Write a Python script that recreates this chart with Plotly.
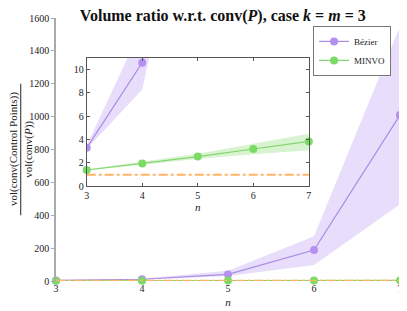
import plotly.graph_objects as go

n_vals = [3, 4, 5, 6, 7]
bezier_mean = [3.3, 10.6, 40, 188, 1010]
bezier_low = [3.2, 8.3, 30, 97, 467]
bezier_high = [3.5, 13.7, 62, 273, 1550]
minvo_mean = [1.4, 1.95, 2.55, 3.2, 3.85]
minvo_low = [1.35, 1.85, 2.35, 2.75, 3.1]
minvo_high = [1.45, 2.1, 2.8, 3.65, 4.5]
ref_val = [1, 1, 1, 1, 1]
main_yticks = [0, 200, 400, 600, 800, 1000, 1200, 1400, 1600]
inset_yticks = [0, 2, 4, 6, 8, 10]

PUR_M = "#B491F0"
PUR_L = "#A98BE6"
PUR_F = "rgba(185,150,240,0.32)"
GRN_M = "#7BDB64"
GRN_L = "#7FD56C"
GRN_F = "rgba(125,215,100,0.30)"
ORG = "#FFB364"
FONT = "Liberation Serif"

fig = go.Figure()

def add_set(xa, ya, show):
    fig.add_trace(go.Scatter(x=n_vals, y=bezier_low, mode="lines", line=dict(width=0),
                             showlegend=False, hoverinfo="skip", xaxis=xa, yaxis=ya))
    fig.add_trace(go.Scatter(x=n_vals, y=bezier_high, mode="lines", line=dict(width=0),
                             fill="tonexty", fillcolor=PUR_F, showlegend=False,
                             hoverinfo="skip", xaxis=xa, yaxis=ya))
    fig.add_trace(go.Scatter(x=n_vals, y=minvo_low, mode="lines", line=dict(width=0),
                             showlegend=False, hoverinfo="skip", xaxis=xa, yaxis=ya))
    fig.add_trace(go.Scatter(x=n_vals, y=minvo_high, mode="lines", line=dict(width=0),
                             fill="tonexty", fillcolor=GRN_F, showlegend=False,
                             hoverinfo="skip", xaxis=xa, yaxis=ya))
    fig.add_trace(go.Scatter(x=n_vals, y=bezier_mean, mode="lines+markers", name="Bézier",
                             line=dict(color=PUR_L, width=1.2),
                             marker=dict(color=PUR_M, size=8), showlegend=show,
                             cliponaxis=(xa != "x"), xaxis=xa, yaxis=ya))
    fig.add_trace(go.Scatter(x=n_vals, y=minvo_mean, mode="lines+markers", name="MINVO",
                             line=dict(color=GRN_L, width=1.2),
                             marker=dict(color=GRN_M, size=8), showlegend=show,
                             cliponaxis=False, xaxis=xa, yaxis=ya))
    fig.add_trace(go.Scatter(x=n_vals, y=ref_val, mode="lines",
                             line=dict(color=ORG, width=2, dash="dashdot"),
                             showlegend=False, hoverinfo="skip", xaxis=xa, yaxis=ya))

add_set("x", "y", True)
add_set("x2", "y2", False)

# The page body has an 8px margin, so the figure is 8px smaller on each axis.
fig.update_layout(
    width=399, height=303,
    margin=dict(l=48, r=4, t=10, b=29),
    paper_bgcolor="white", plot_bgcolor="white",
    font=dict(family=FONT, size=10, color="#222"),
    title=dict(text="<b>Volume ratio w.r.t. conv(<i>P</i>), case <i>k</i> = <i>m</i> = 3</b>",
               xref="paper", x=0.485, xanchor="center",
               yref="container", y=0.995, yanchor="top", pad=dict(t=0, b=0),
               font=dict(family=FONT, size=16, color="#111")),
    showlegend=True,
    legend=dict(x=0.974, xanchor="right", y=0.97, yanchor="top", traceorder="normal",
                bgcolor="white", bordercolor="#777", borderwidth=1,
                font=dict(family=FONT, size=9, color="#222"),
                tracegroupgap=0, itemwidth=30),
    xaxis=dict(range=[3, 7], tickvals=n_vals, showgrid=False, zeroline=False,
               showline=False, ticks="", title=dict(text="<i>n</i>", standoff=5,
               font=dict(size=11))),
    yaxis=dict(range=[0, 1600], tickvals=main_yticks, showgrid=False, zeroline=False,
               showline=True, linecolor="#aaaaaa", linewidth=1.5, ticks="outside",
               ticklen=3, tickcolor="#aaaaaa"),
    xaxis2=dict(domain=[0.0893, 0.735], anchor="y2", range=[3, 7], tickvals=n_vals,
                showgrid=False, zeroline=False, showline=True, linecolor="#555",
                linewidth=1, mirror="ticks", ticks="inside", ticklen=3, tickcolor="#555",
                title=dict(text="<i>n</i>", standoff=2, font=dict(size=11))),
    yaxis2=dict(domain=[0.36, 0.848], anchor="x2", range=[0, 11], tickvals=inset_yticks,
                showgrid=False, zeroline=False, showline=True, linecolor="#555",
                linewidth=1, mirror="ticks", ticks="inside", ticklen=3, tickcolor="#555"),
)

fig.add_shape(type="rect", xref="x2 domain", yref="y2 domain", x0=0, x1=1, y0=0, y1=1,
              fillcolor="white", line=dict(width=0), layer="below")

fig.add_annotation(text="vol(conv(Control Points))", xref="paper", yref="paper",
                   x=-0.1235, y=0.5, textangle=-90, showarrow=False,
                   xanchor="center", yanchor="middle", font=dict(size=11))
fig.add_annotation(text="vol(conv(<i>P</i>))", xref="paper", yref="paper",
                   x=-0.0805, y=0.5, textangle=-90, showarrow=False,
                   xanchor="center", yanchor="middle", font=dict(size=11))
fig.add_shape(type="line", xref="paper", yref="paper", x0=-0.1025, x1=-0.1025,
              y0=0.25, y1=0.75, line=dict(color="#222", width=1))

fig.write_html("out.html")
